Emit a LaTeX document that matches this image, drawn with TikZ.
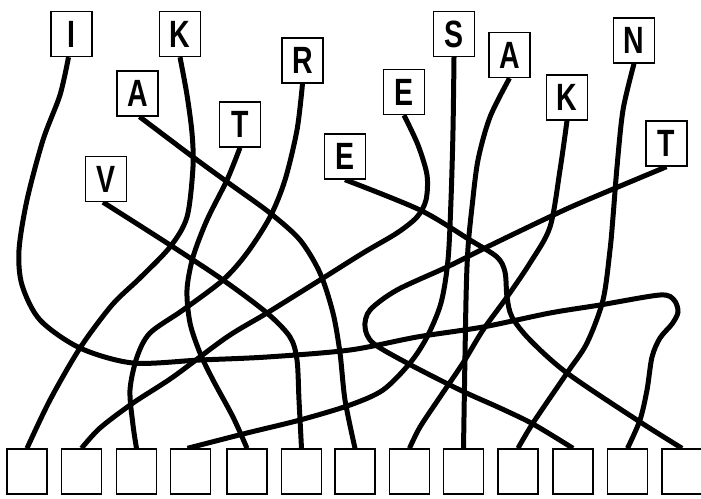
\documentclass[tikz,border=0pt]{standalone}
\usepackage{fontspec}
\newfontfamily\labfont[FakeStretch=0.75]{Liberation Sans}
\usetikzlibrary{backgrounds}
\begin{document}
\begin{tikzpicture}[x=1pt,y=-1pt,
  lab/.style={draw,line width=1.4pt,minimum width=41pt,minimum height=45pt,inner sep=0pt,fill=white,
    font=\labfont\bfseries\fontsize{38}{38}\selectfont},
  slot/.style={draw,line width=1.4pt,minimum width=40pt,minimum height=45pt,inner sep=0pt,fill=white},
  wire/.style={line width=5pt}]
\useasboundingbox (0,0) rectangle (701,498);
% top labels
\node[lab] (I)  at (71.5,34)   {I};
\node[lab] (K1) at (180,34)    {K};
\node[lab] (A1) at (137.5,93.5){A};
\node[lab] (T1) at (240,124.5) {T};
\node[lab] (R)  at (302.5,60.5){R};
\node[lab] (V)  at (106,179)   {V};
\node[lab] (E1) at (345,156.5) {E};
\node[lab] (E2) at (404,92)    {E};
\node[lab] (S)  at (454,34)    {S};
\node[lab] (A2) at (509.5,55)  {A};
\node[lab] (K2) at (567,97.5)  {K};
\node[lab] (N)  at (634,40.5)  {N};
\node[lab] (T2) at (666.5,143.5){T};
% bottom slots
\foreach \i/\x in {1/27,2/81.5,3/136.5,4/190.5,5/247,6/301.5,7/355,8/409.5,9/463.5,10/518,11/573,12/627.5,13/682}
  \node[slot] (b\i) at (\x,471.5) {};
\begin{pgfonlayer}{background}
\fill[white] (0,0) rectangle (701,498);
% I -> 12
\draw[wire] plot[smooth] coordinates {([xshift=-3pt]I.south) (60,95) (43,140) (27,200) (19,250) (22,285) (40,320) (80,348) (133,363) (200,360) (267,357) (350,350) (417,337) (483,327) (550,313) (600,305) (660,295) (674,300) (678,312) (672,324) (660,338) (652,357) (647,390) (640,420) (b12.north)};
% K -> 1
\draw[wire] plot[smooth] coordinates {(K1.south) (187,95) (192,133) (193,167) (187,217) (170,247) (140,278) (112,305) (80,348) (50,400) (b1.north)};
% A -> 7
\draw[wire] plot[smooth] coordinates {([xshift=2pt]A1.south) (193,157) (230,184) (270,213) (300,240) (320,273) (333,313) (340,353) (345,400) (b7.north)};
% T -> 5
\draw[wire] plot[smooth] coordinates {(T1.south) (227,180) (207,220) (193,257) (187,290) (190,323) (200,353) (213,380) (233,417) (b5.north)};
% R -> 3
\draw[wire] plot[smooth] coordinates {(R.south) (297,130) (285,180) (270,217) (247,253) (223,280) (183,310) (150,333) (137,357) (130,390) (133,425) (b3.north)};
% V -> 6
\draw[wire] plot[smooth] coordinates {([xshift=-3pt]V.south) (167,243) (223,280) (267,313) (290,337) (297,360) (299,400) (b6.north)};
% E -> 2
\draw[wire] plot[smooth] coordinates {(E2.south) (418,145) (427,175) (426,200) (417,217) (397,233) (363,253) (320,280) (267,313) (227,337) (173,377) (133,403) (100,428) (b2.north)};
% S -> 4
\draw[wire] plot[smooth] coordinates {(S.south) (453,130) (451,200) (448,260) (441,303) (427,337) (410,363) (383,390) (350,405) (300,420) (247,433) ([xshift=-3pt]b4.north)};
% A -> 9
\draw[wire] plot[smooth] coordinates {(A2.south) (490,117) (478,160) (472,207) (468,248) (466,300) (b9.north)};
% K -> 8
\draw[wire] plot[smooth] coordinates {(K2.south) (560,170) (550,227) (530,263) (507,297) (483,330) (463,363) (440,397) (420,427) (b8.north)};
% N -> 10
\draw[wire] plot[smooth] coordinates {(N.south) (623,110) (617,167) (613,217) (610,250) (603,300) (587,343) (567,373) (533,423) (b10.north)};
% T -> 11
\draw[wire] plot[smooth] coordinates {(T2.south) (580,203) (543,220) (487,247) (447,267) (397,290) (370,310) (365,327) (373,343) (407,363) (460,390) (500,408) (533,424) (b11.north)};
% E -> 13
\draw[wire] plot[smooth] coordinates {(E1.south) (420,210) (470,240) (497,257) (505,272) (507,297) (512,317) (530,340) (567,373) (637,420) (b13.north)};
\end{pgfonlayer}
\end{tikzpicture}
\end{document}
